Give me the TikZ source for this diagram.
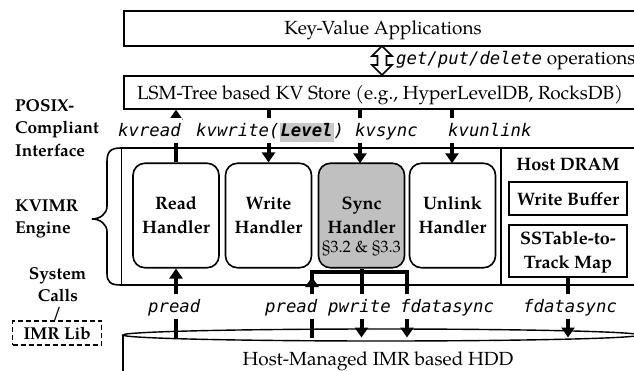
\documentclass[tikz,border=0pt]{standalone}
\usepackage{fontspec}
\setmainfont{texgyrepagella}[Extension=.otf,UprightFont=*-regular,BoldFont=*-bold,ItalicFont=*-italic,BoldItalicFont=*-bolditalic]
\setmonofont{DejaVu Sans Mono}
\usetikzlibrary{arrows.meta}
\definecolor{hlgray}{RGB}{200,200,200}
\definecolor{syncgray}{RGB}{192,192,192}
\newcommand\kvm[1]{{\fontsize{17.3}{21}\selectfont\ttfamily\itshape #1}}
\begin{document}
\begin{tikzpicture}[x=1pt,y=-1pt,
  box/.style={draw,line width=1.6pt,inner sep=0pt},
  handler/.style={draw,line width=1.6pt,rounded corners=12pt,minimum width=86pt,minimum height=104.5pt,inner sep=0pt},
  htext/.style={font=\fontsize{18}{22}\selectfont\bfseries,inner sep=0pt,anchor=base},
  side/.style={font=\fontsize{17.2}{22}\selectfont\bfseries,inner sep=0pt},
  serif/.style={font=\fontsize{19}{23}\selectfont,inner sep=0pt},
  mono/.style={font=\fontsize{17.3}{21}\selectfont\ttfamily\itshape,fill=white,inner sep=1.5pt,text height=17pt,text depth=5pt,anchor=base west},
  conn/.style={line width=4pt},
  arr/.style={line width=4pt,-{Triangle[width=13pt,length=10pt]}},
]
\clip (0,0) rectangle (634,371);
\fill[white] (0,0) rectangle (634,371);

% top boxes
\node[box,anchor=north west,minimum width=520pt,minimum height=35pt] (apps) at (123,10) {};
\node[serif,anchor=base] (appstext) at (383,35) {Key-Value Applications};
\node[box,anchor=north west,minimum width=520pt,minimum height=33pt] (lsm) at (123,75) {};
\node[serif,anchor=base] (lsmtext) at (380,99.3) {LSM-Tree based KV Store (e.g., HyperLevelDB, RocksDB)};

% double arrow
\draw[line width=1.6pt,line join=miter,fill=white] (382,46) -- (392,56) -- (386.5,56) -- (386.5,65) -- (392,65) -- (382,75) -- (372,65) -- (377.5,65) -- (377.5,56) -- (372,56) -- cycle;
\node[serif,anchor=base west] (ops) at (396,64.3) {\kvm{get/put/delete} operations};

% engine frame
\draw[line width=1.6pt] (640,148) -- (121,148) .. controls (110,148) and (107,152) .. (107,162) -- (107,206) .. controls (107,214) and (100,219) .. (92,219) .. controls (100,219) and (107,224) .. (107,232) -- (107,273) .. controls (107,282) and (110,285) .. (121,285) -- (640,285);
\draw[line width=0.8pt] (121.5,148) -- (121.5,285);
\draw[line width=1.6pt] (501,148) -- (501,285);

% handlers
\node[handler] (read) at (176,215.5) {};
\node[handler] (write) at (268.5,215.5) {};
\node[handler,fill=syncgray] (sync) at (361.5,215.5) {};
\node[handler] (unlink) at (452.5,215.5) {};
\node[htext] (read1) at (176,210) {Read};
\node[htext] (read2) at (176,233.3) {Handler};
\node[htext] (write1) at (268.5,210) {Write};
\node[htext] (write2) at (268.5,233.3) {Handler};
\node[htext] (sync1) at (361.5,210) {Sync};
\node[htext] (sync2) at (361.5,233.3) {Handler};
\node[font=\fontsize{16.5}{19}\selectfont,inner sep=0pt,anchor=base] (sync3) at (361.5,253) {§3.2 \& §3.3};
\node[htext] (unlink1) at (452.5,210) {Unlink};
\node[htext] (unlink2) at (452.5,233.3) {Handler};

% host DRAM
\node[htext] (dram) at (568,171) {Host DRAM};
\node[box,minimum width=118pt,minimum height=33pt] (wbuf) at (568,198.5) {};
\node[htext] (wbuft) at (568,206) {Write Buffer};
\node[box,minimum width=118pt,minimum height=52pt] (sst) at (568,251) {};
\node[htext] (sst1) at (568,245) {SSTable-to-};
\node[htext] (sst2) at (568,268.3) {Track Map};

% HDD
\draw[line width=1.4pt] (381,335) ellipse [x radius=258pt, y radius=6pt];
\draw[line width=1.4pt] (123,335) -- (123,380);
\node[serif,anchor=base] (hdd) at (378,365) {Host-Managed IMR based HDD};
\coordinate (hddtop) at (381,337.5);
\coordinate (brL) at (312,272);
\coordinate (brR) at (407,272);

% top connectors
\draw[arr] (read.north) -- (read.north |- lsm.south);
\draw[arr] (write.north |- lsm.south) -- (write.north);
\draw[arr] (360,108) -- (360,163.3);
\draw[arr] (452,108) -- (452,163.3);

% bottom connectors
\draw[arr] (read.south |- hddtop) -- (read.south);
\draw[arr] (sync.south) -- (sync.south |- hddtop);
\draw[arr,line join=miter] (312,280) -- (brL) -- (brR) -- (brR |- hddtop);
\draw[arr] (brL |- hddtop) -- (312,277);
\draw[arr] (sst.south) -- (sst.south |- hddtop);

% interface labels
\node[mono] (lkvread) at (116.5,136.7) {kvread};
\node[mono] (lkvwrite) at (194.5,136.7) {kvwrite(\setlength\fboxsep{1pt}\colorbox{hlgray}{\bfseries\rule[-4pt]{0pt}{15pt}Level})};
\node[mono] (lkvsync) at (353.5,136.7) {kvsync};
\node[mono] (lkvunlink) at (446.5,136.7) {kvunlink};

% system call labels
\node[mono] (lpread1) at (146.5,312.5) {pread};
\node[mono] (lpread2) at (263.5,312.5) {pread};
\node[mono] (lpwrite) at (326.5,312.5) {pwrite};
\node[mono] (lfsync1) at (398.5,312.5) {fdatasync};
\node[mono] (lfsync2) at (521.5,312.5) {fdatasync};

% left side labels
\node[side,anchor=base west] (posix1) at (15,111.7) {POSIX-};
\node[side,anchor=base west] (posix2) at (15,134) {Compliant};
\node[side,anchor=base west] (posix3) at (15,156.7) {Interface};
\node[side,anchor=base west] (eng1) at (15,211.5) {KVIMR};
\node[side,anchor=base west] (eng2) at (15,234) {Engine};
\node[side,anchor=base] (sys1) at (57.5,279.3) {System};
\node[side,anchor=base] (sys2) at (58,301.7) {Calls};
\node[side,anchor=base] (slash) at (57,318) {/};
\node[draw,dash pattern=on 5pt off 3pt,line width=1.5pt,minimum width=89pt,minimum height=24pt,inner sep=0pt] (imr) at (57.2,333) {};
\node[side,anchor=base] (imrt) at (57.2,339.3) {IMR Lib};
\end{tikzpicture}
\end{document}
